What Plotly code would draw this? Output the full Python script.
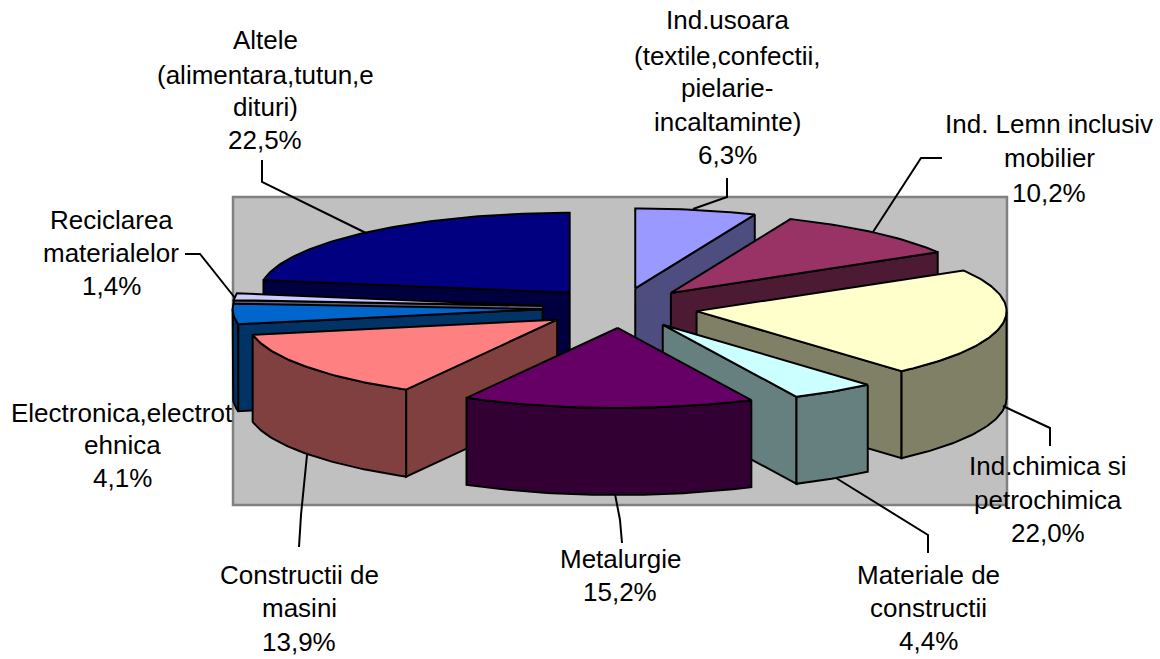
import math
import plotly.graph_objects as go

# ---- data ----
categories = ["Ind.usoara", "Ind. Lemn", "Ind.chimica", "Materiale", "Metalurgie",
              "Constructii", "Electronica", "Reciclarea", "Altele"]
values = [6.3, 10.2, 22.0, 4.4, 15.2, 13.9, 4.1, 1.4, 22.5]
label_lines = [
    ["Ind.usoara", "(textile,confectii,", "pielarie-", "incaltaminte)"],
    ["Ind. Lemn inclusiv", "mobilier"],
    ["Ind.chimica si", "petrochimica"],
    ["Materiale de", "constructii"],
    ["Metalurgie"],
    ["Constructii de", "masini"],
    ["Electronica,electrot", "ehnica"],
    ["Reciclarea", "materialelor"],
    ["Altele", "(alimentara,tutun,e", "dituri)"],
]
top_colors = ["#9999FF", "#993366", "#FFFFCC", "#CCFFFF", "#660066",
              "#FF8080", "#0066CC", "#CCCCFF", "#000080"]
wall_colors = ["#4D4D80", "#4D1A33", "#808066", "#668080", "#330033",
               "#804040", "#003366", "#666680", "#000040"]

# ---- layout of the drawing ----
CX, CY, A, B, H, EXPLODE = 620, 308, 310, 80, 87, 0.25
LW = 2
draw_order = [8, 7, 6, 5, 0, 1, 2, 3, 4]
label_pos = [  # centre x, y of each text line (last one is the percentage)
    (727, [20, 56, 88, 122, 155]),
    (1049, [124, 158, 193]),
    (1048, [466, 500, 533]),
    (928, [575, 608, 641]),
    (620, [559, 592]),
    (299, [575, 608, 642]),
    (122, [413, 445, 478]),
    (111, [220, 253, 286]),
    (265, [40, 75, 107, 140]),
]
leaders = [
    ([727, 727, 693], [178, 197, 209]),
    ([942, 921, 873], [158, 158, 232]),
    ([1050, 1050, 1003], [446, 428, 406]),
    ([928, 928, 836], [553, 535, 478]),
    ([622, 620, 615], [543, 520, 494]),
    ([299, 301, 307], [547, 515, 455]),
    (None, None),
    ([185, 200, 235], [254, 254, 298]),
    ([262, 262, 366], [160, 182, 233]),
]

fig = go.Figure()


def poly(xs, ys, color):
    fig.add_trace(go.Scatter(
        x=xs + xs[:1], y=ys + ys[:1], mode="lines", fill="toself",
        fillcolor=color, line=dict(color="#000000", width=LW, shape="linear"),
        hoverinfo="skip", showlegend=False))


def arc(ax, ay, t0, t1):
    n = max(2, int(abs(t1 - t0) * 60) + 2)
    ts = [t0 + (t1 - t0) * k / (n - 1) for k in range(n)]
    return ([ax + A * math.sin(t) for t in ts], [ay - B * math.cos(t) for t in ts])


total = sum(values)
angles = [0.0]
for v in values:
    angles.append(angles[-1] + v / total * 2 * math.pi)

for i in draw_order:
    t0, t1 = angles[i], angles[i + 1]
    mid = (t0 + t1) / 2
    ax = CX + EXPLODE * A * math.sin(mid)
    ay = CY - EXPLODE * B * math.cos(mid)
    wall, top = wall_colors[i], top_colors[i]
    # cut faces
    for t, visible in ((t0, math.sin(t0) < -1e-6), (t1, math.sin(t1) > 1e-6)):
        if visible:
            ex, ey = ax + A * math.sin(t), ay - B * math.cos(t)
            poly([ax, ex, ex, ax], [ay, ey, ey + H, ay + H], wall)
    # outer wall (front half of the rim only)
    a0, a1 = max(t0, math.pi / 2), min(t1, 3 * math.pi / 2)
    if a1 > a0:
        xs, ys = arc(ax, ay, a0, a1)
        poly(xs + xs[::-1], ys + [y + H for y in ys[::-1]], wall)
    # top face
    xs, ys = arc(ax, ay, t0, t1)
    poly([ax] + xs, [ay] + ys, top)

for lx, ly in leaders:
    if lx:
        fig.add_trace(go.Scatter(x=lx, y=ly, mode="lines",
                                 line=dict(color="#000000", width=LW),
                                 hoverinfo="skip", showlegend=False))

annotations = []
for lines, v, (px, pys) in zip(label_lines, values, label_pos):
    texts = lines + [f"{v:.1f}%".replace(".", ",")]
    for t, py in zip(texts, pys):
        annotations.append(dict(x=px, y=py, xref="x", yref="y", text=t, showarrow=False,
                                xanchor="center", yanchor="middle",
                                font=dict(family="Liberation Sans, Arial", size=26, color="#000000")))

fig.update_layout(
    width=1160, height=659, autosize=False,
    margin=dict(l=0, r=0, t=0, b=0, pad=0),
    paper_bgcolor="#FFFFFF", plot_bgcolor="#FFFFFF",
    showlegend=False,
    xaxis=dict(visible=False, range=[0, 1160], fixedrange=True),
    yaxis=dict(visible=False, range=[659, 0], fixedrange=True),
    shapes=[dict(type="rect", xref="x", yref="y", x0=233, y0=197, x1=1007, y1=505,
                 fillcolor="#C0C0C0", line=dict(color="#808080", width=2.5), layer="below")],
    annotations=annotations,
)
fig.write_html("out.html", post_script="document.body.style.margin='0';document.body.style.overflow='hidden';",
               config={"displayModeBar": False})
